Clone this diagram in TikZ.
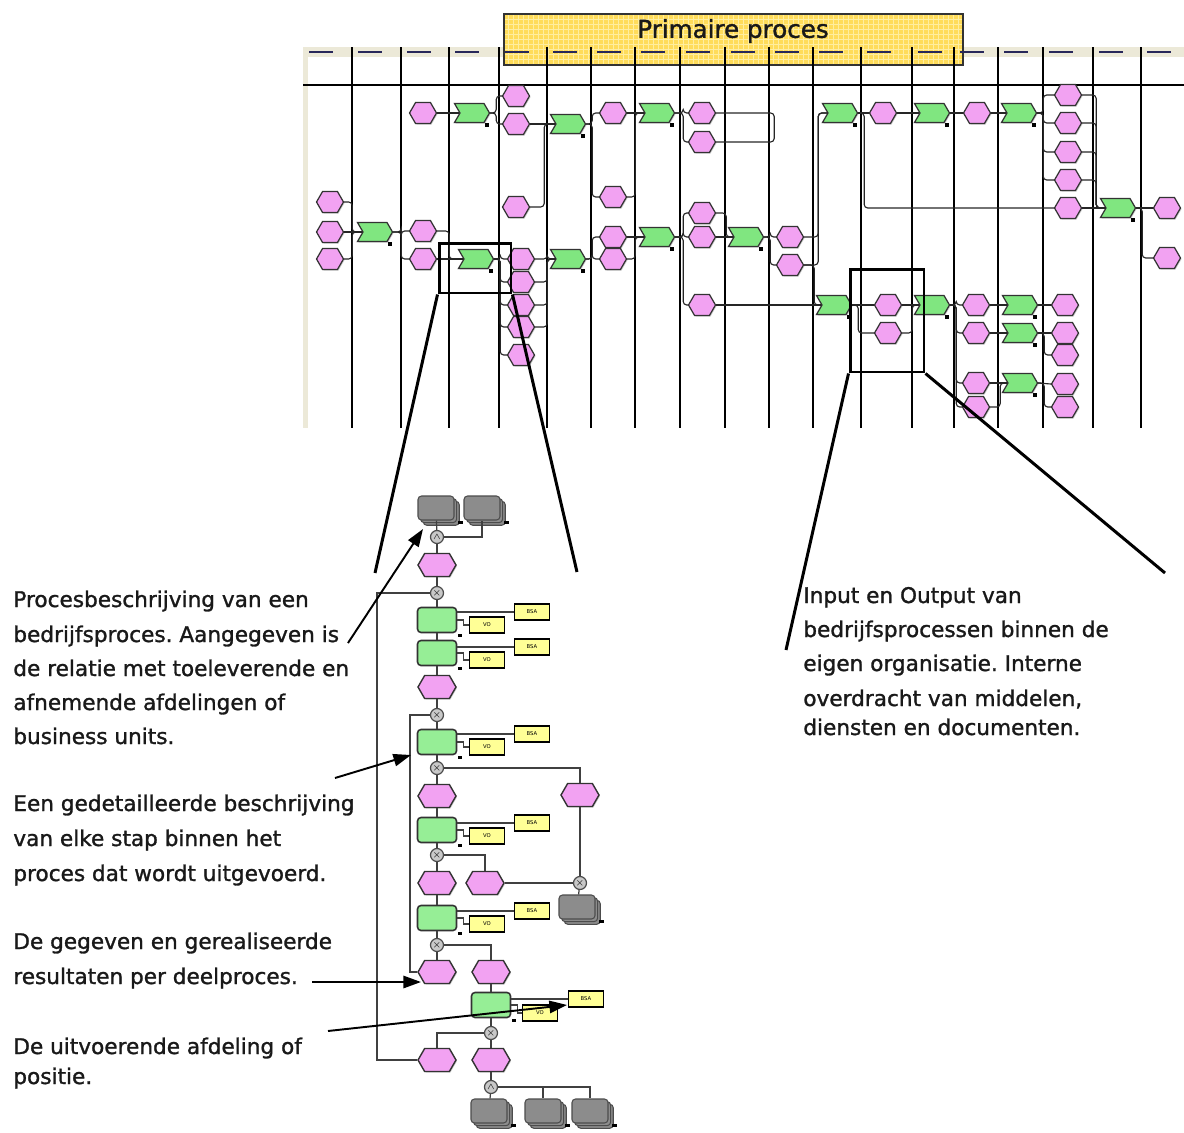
\documentclass[tikz,border=0pt]{standalone}
\usepackage{fontspec}
\setmainfont{DejaVu Sans}
\newfontfamily\notefont{DejaVu Sans}[FakeBold=1.3]
\frenchspacing
\usetikzlibrary{shapes.symbols,shadows,arrows.meta,positioning}

\definecolor{eventpink}{RGB}{242,162,242}
\definecolor{funcgreen}{RGB}{128,230,128}
\definecolor{detgreen}{RGB}{150,238,150}
\definecolor{docyellow}{RGB}{255,255,150}
\definecolor{startgray}{RGB}{140,140,140}
\definecolor{connfill}{RGB}{200,200,200}
\definecolor{titleyellow}{RGB}{255,220,90}
\definecolor{titlegrid}{RGB}{255,238,160}
\definecolor{lanebeige}{RGB}{236,233,216}
\definecolor{labelnavy}{RGB}{40,40,90}

\tikzset{
  unitmark/.style={fill=black, inner sep=0pt, minimum width=0.09cm, minimum height=0.07cm},
  event/.style={shape=signal, signal to=east and west, signal pointer angle=120, draw=black!80, line width=0.7pt, fill=eventpink, minimum width=0.54cm, minimum height=0.42cm, inner sep=0pt, drop shadow={shadow xshift=0.6pt, shadow yshift=-0.6pt, opacity=0.4}},
  func/.style={shape=signal, signal to=east, signal from=west, signal pointer angle=120, draw=black!80, line width=0.7pt, fill=funcgreen, minimum width=0.7cm, minimum height=0.38cm, inner sep=0pt, label={[unitmark]south east:{}}, drop shadow={shadow xshift=0.6pt, shadow yshift=-0.6pt, opacity=0.4}},
  devent/.style={event, line width=0.8pt, minimum width=0.76cm, minimum height=0.46cm},
  dfunc/.style={rectangle, rounded corners=2pt, draw=black!80, line width=0.9pt, fill=detgreen, minimum width=0.78cm, minimum height=0.5cm, label={[unitmark]south east:{}}},
  doc/.style={rectangle, draw=black, line width=1.1pt, fill=docyellow, minimum width=0.7cm, minimum height=0.32cm, inner sep=0pt, font=\fontsize{3}{3}\selectfont},
  startev/.style={rectangle, rounded corners=2pt, draw=black!70, line width=0.6pt, fill=startgray, minimum width=0.72cm, minimum height=0.48cm, double copy shadow={shadow xshift=1.5pt, shadow yshift=-1.5pt}, label={[unitmark, xshift=2pt]south east:{}}},
  conn/.style={circle, draw=black!70, line width=0.7pt, fill=connfill, minimum size=0.26cm, inner sep=0pt, font=\fontsize{5}{5}\selectfont},
  flow/.style={draw=black!85, line width=0.65pt, rounded corners=2pt},
  dflow/.style={draw=black!75, line width=0.7pt},
  lane/.style={draw=black, line width=0.75pt},
  titlebox/.style={rectangle, draw=black!80, line width=1pt, fill=titleyellow, minimum width=9.18cm, minimum height=1.02cm,
    path picture={\draw[titlegrid, line width=0.4pt, step=0.1cm] (path picture bounding box.south west) grid (path picture bounding box.north east);}},
  zoombox/.style={draw=black, line width=1.7pt},
  zoomline/.style={draw=black, line width=1.7pt},
  pointer/.style={draw=black, line width=1.1pt, -{Triangle[length=10pt, width=7pt]}},
  note/.style={font=\notefont\fontsize{12.3}{14}\selectfont, text=black!90, inner sep=0pt, anchor=base west}
}

\begin{document}
\begin{tikzpicture}[x=0.02cm, y=-0.02cm]
\useasboundingbox (0,0) rectangle (1184,1133);

% swimlanes
\fill[lanebeige] (303,47) rectangle (1184,57);
\fill[lanebeige] (303,57) rectangle (308,428);
\node[titlebox] (title) at (733.5,39.5) {};
\foreach \x in {303,352,401,449,499,547,591,635,680,725,769,813,861,912,954,998,1043,1093,1141}
  \fill[labelnavy] (\x+6,50.5) rectangle (\x+30,53);
\foreach \x in {352,401,449,499,547,591,635,680,725,769,813,861,912,954,998,1043,1093,1141}
  \draw[lane] (\x,47) -- (\x,428);
\draw[lane] (303,85) -- (1184,85);
\node[font=\notefont\fontsize{14}{16}\selectfont, text=black!90] (titletext) at (733,31) {Primaire proces};

% overview process
\node[event] (e1) at (330,202) {};
\node[event] (e2) at (330,232) {};
\node[event] (e3) at (330,259) {};
\node[func] (f1) at (375,232) {};
\node[event] (e4) at (423,113) {};
\node[event] (e5) at (423,231) {};
\node[event] (e6) at (423,259) {};
\node[func] (f2) at (472,113) {};
\node[func] (f3) at (476,259) {};
\node[event] (e7) at (516,96) {};
\node[event] (e8) at (516,124) {};
\node[event] (e9) at (516,207) {};
\node[event] (e10) at (521,259) {};
\node[event] (e11) at (521,282) {};
\node[event] (e12) at (521,305) {};
\node[event] (e13) at (521,327) {};
\node[event] (e14) at (521,355) {};
\node[func] (f4) at (568,124) {};
\node[func] (f5) at (568,259) {};
\node[event] (e15) at (613,113) {};
\node[event] (e16) at (613,197) {};
\node[event] (e17) at (613,237) {};
\node[event] (e18) at (613,259) {};
\node[func] (f6) at (657,113) {};
\node[func] (f7) at (657,237) {};
\node[event] (e19) at (702,113) {};
\node[event] (e20) at (702,142) {};
\node[event] (e21) at (702,213) {};
\node[event] (e22) at (702,237) {};
\node[event] (e23) at (702,305) {};
\node[func] (f8) at (746,237) {};
\node[event] (e24) at (790,237) {};
\node[event] (e25) at (790,265) {};
\node[func] (f9) at (840,113) {};
\node[func] (f10) at (834,305) {};
\node[event] (e26) at (883,113) {};
\node[event] (e27) at (888,305) {};
\node[event] (e28) at (888,333) {};
\node[func] (f11) at (932,113) {};
\node[func] (f12) at (932,305) {};
\node[event] (e29) at (977,113) {};
\node[event] (e30) at (976,305) {};
\node[event] (e31) at (976,333) {};
\node[event] (e32) at (976,383) {};
\node[event] (e33) at (976,407) {};
\node[func] (f13) at (1019,113) {};
\node[func] (f14) at (1020,305) {};
\node[func] (f15) at (1020,333) {};
\node[func] (f16) at (1020,383) {};
\node[event] (e34) at (1068,95) {};
\node[event] (e35) at (1068,123) {};
\node[event] (e36) at (1068,152) {};
\node[event] (e37) at (1068,180) {};
\node[event] (e38) at (1068,208) {};
\node[event] (e39) at (1065,305) {};
\node[event] (e40) at (1065,333) {};
\node[event] (e41) at (1065,355) {};
\node[event] (e42) at (1065,384) {};
\node[event] (e43) at (1065,407) {};
\node[func] (f17) at (1118,208) {};
\node[event] (e44) at (1167,208) {};
\node[event] (e45) at (1167,258) {};

\draw[flow] (e1.east) -- ++(8,0) |- (f1.west);
\draw[flow] (e2.east) -- (f1.west);
\draw[flow] (e3.east) -- ++(8,0) |- (f1.west);
\draw[flow] (f1.east) -- ++(8,0) |- (e5.west);
\draw[flow] (f1.east) -- ++(8,0) |- (e6.west);
\draw[flow] (e5.east) -- ++(12,0) |- (f3.west);
\draw[flow] (e6.east) -- (f3.west);
\draw[flow] (e4.east) -- (f2.west);
\draw[flow] (f2.east) -- ++(6,0) |- (e7.west);
\draw[flow] (f2.east) -- ++(6,0) |- (e8.west);
\draw[flow] (e8.east) -- (f4.west);
\draw[flow] (e9.east) -- ++(14,0) |- (f4.west);
\draw[flow] (f4.east) -- ++(6,0) |- (e15.west);
\draw[flow] (f4.east) -- ++(6,0) |- (e16.west);
\draw[flow] (e15.east) -- (f6.west);
\draw[flow] (e16.east) -- ++(8,0) |- (f6.west);
\draw[flow] (f6.east) -- ++(8,0) |- (e19.west);
\draw[flow] (f6.east) -- ++(8,0) |- (e20.west);
\draw[flow] (e19.east) -- ++(58,0) |- (e20.east);
\foreach \n in {e10,e11,e12,e13,e14}
  \draw[flow] (f3.east) -- ++(6,0) |- (\n.west);
\foreach \n in {e10,e11,e12,e13}
  \draw[flow] (\n.east) -- ++(12,0) |- (f5.west);
\draw[flow] (f5.east) -- ++(6,0) |- (e17.west);
\draw[flow] (f5.east) -- ++(6,0) |- (e18.west);
\draw[flow] (e17.east) -- (f7.west);
\draw[flow] (e18.east) -- ++(8,0) |- (f7.west);
\foreach \n in {e21,e22,e23}
  \draw[flow] (f7.east) -- ++(8,0) |- (\n.west);
\draw[flow] (e21.east) -- ++(10,0) |- (f8.west);
\draw[flow] (e22.east) -- (f8.west);
\draw[flow] (f8.east) -- ++(6,0) |- (e24.west);
\draw[flow] (f8.east) -- ++(6,0) |- (e25.west);
\draw[flow] (e24.east) -- ++(14,0) |- (f9.west);
\draw[flow] (e25.east) -- ++(14,0) |- (f9.west);
\draw[flow] (e25.east) -- ++(10,0) |- (f10.west);
\draw[flow] (e23.east) -- (f10.west);
\draw[flow] (f9.east) -- (e26.west);
\draw[flow] (f9.east) -- ++(6,0) |- (e38.west);
\draw[flow] (e26.east) -- (f11.west);
\draw[flow] (f11.east) -- (e29.west);
\draw[flow] (e29.east) -- (f13.west);
\foreach \n in {e34,e35,e36,e37}
  \draw[flow] (f13.east) -- ++(6,0) |- (\n.west);
\foreach \n in {e34,e35,e36,e37}
  \draw[flow] (\n.east) -- ++(14,0) |- (f17.west);
\draw[flow] (e38.east) -- (f17.west);
\draw[flow] (f17.east) -- (e44.west);
\draw[flow] (f17.east) -- ++(6,0) |- (e45.west);
\draw[flow] (f10.east) -- (e27.west);
\draw[flow] (f10.east) -- ++(6,0) |- (e28.west);
\draw[flow] (e27.east) -- (f12.west);
\draw[flow] (e28.east) -- ++(10,0) |- (f12.west);
\foreach \n in {e30,e31,e32,e33}
  \draw[flow] (f12.east) -- ++(6,0) |- (\n.west);
\draw[flow] (e30.east) -- (f14.west);
\draw[flow] (f14.east) -- (e39.west);
\draw[flow] (e31.east) -- (f15.west);
\draw[flow] (f15.east) -- (e40.west);
\draw[flow] (f15.east) -- ++(6,0) |- (e41.west);
\draw[flow] (e32.east) -- (f16.west);
\draw[flow] (e33.east) -- ++(10,0) |- (f16.west);
\draw[flow] (f16.east) -- (e42.west);
\draw[flow] (f16.east) -- ++(6,0) |- (e43.west);

% zoom frames
\node[zoombox, minimum width=1.44cm, minimum height=1.0cm] (zoomA) at (475,268) {};
\node[zoombox, minimum width=1.48cm, minimum height=2.06cm] (zoomB) at (887,320.5) {};
\coordinate (zoomAl) at (375,573);
\coordinate (zoomAr) at (577,572);
\coordinate (zoomBl) at (786,650);
\coordinate (zoomBr) at (1165,573);
\draw[zoomline] (zoomA.south west) -- (zoomAl);
\draw[zoomline] (zoomA.south east) -- (zoomAr);
\draw[zoomline] (zoomB.south west) -- (zoomBl);
\draw[zoomline] (zoomB.south east) -- (zoomBr);

% detailed process
\node[startev] (s1) at (436,508) {};
\node[startev] (s2) at (482,508) {};
\node[conn] (and1) at (437,537) {$\wedge$};
\node[devent] (b1) at (437,565) {};
\node[conn] (x1) at (437,593) {$\times$};
\node[dfunc] (g1) at (437,620) {};
\node[doc] (y1) at (532,612) {BSA};
\node[doc] (v1) at (487,625) {VO};
\node[dfunc] (g2) at (437,653) {};
\node[doc] (y2) at (532,647) {BSA};
\node[doc] (v2) at (487,660) {VO};
\node[devent] (b2) at (437,687) {};
\node[conn] (x2) at (437,715) {$\times$};
\node[dfunc] (g3) at (437,742) {};
\node[doc] (y3) at (532,734) {BSA};
\node[doc] (v3) at (487,747) {VO};
\node[conn] (x3) at (437,768) {$\times$};
\node[devent] (b3) at (437,796) {};
\node[devent] (b4) at (580,795) {};
\node[dfunc] (g4) at (437,830) {};
\node[doc] (y4) at (532,823) {BSA};
\node[doc] (v4) at (487,836) {VO};
\node[conn] (x4) at (437,855) {$\times$};
\node[devent] (b5) at (437,883) {};
\node[devent] (b6) at (485,883) {};
\node[conn] (x5) at (580,883) {$\times$};
\node[startev] (s3) at (577,907) {};
\node[dfunc] (g5) at (437,918) {};
\node[doc] (y5) at (532,911) {BSA};
\node[doc] (v5) at (487,924) {VO};
\node[conn] (x6) at (437,945) {$\times$};
\node[devent] (b7) at (437,972) {};
\node[devent] (b8) at (491,972) {};
\node[dfunc] (g6) at (491,1005) {};
\node[doc] (y6) at (586,999) {BSA};
\node[doc] (v6) at (540,1013) {VO};
\node[conn] (x7) at (491,1033) {$\times$};
\node[devent] (b9) at (437,1060) {};
\node[devent] (b10) at (491,1060) {};
\node[conn] (and2) at (491,1087) {$\wedge$};
\node[startev] (s4) at (489,1111) {};
\node[startev] (s5) at (543,1111) {};
\node[startev] (s6) at (590,1111) {};

\draw[dflow] (s1) -- (and1);
\draw[dflow] (and1.east) -| (s2.south);
\draw[dflow] (and1) -- (b1);
\draw[dflow] (b1) -- (x1);
\draw[dflow] (x1) -- (g1);
\draw[dflow] (g1) -- (g2);
\draw[dflow] (g2) -- (b2);
\draw[dflow] (b2) -- (x2);
\draw[dflow] (x2) -- (g3);
\draw[dflow] (g3) -- (x3);
\draw[dflow] (x3) -- (b3);
\draw[dflow] (b3) -- (g4);
\draw[dflow] (g4) -- (x4);
\draw[dflow] (x4) -- (b5);
\draw[dflow] (b5) -- (g5);
\draw[dflow] (g5) -- (x6);
\draw[dflow] (x6) -- (b7);
\draw[dflow] (x3.east) -| (b4.north);
\draw[dflow] (b4) -- (x5);
\draw[dflow] (x4.east) -| (b6.north);
\draw[dflow] (b6) -- (x5);
\draw[dflow] (x5) -- (s3);
\draw[dflow] (x6.east) -| (b8.north);
\draw[dflow] (b8) -- (g6);
\draw[dflow] (g6) -- (x7);
\draw[dflow] (x7) -- (b10);
\draw[dflow] (x7.west) -| (b9.north);
\draw[dflow] (b10) -- (and2);
\draw[dflow] (and2) -- (s4);
\draw[dflow] (and2.east) -| (s5.north);
\draw[dflow] (and2.east) -| (s6.north);
\draw[dflow] (x1.west) -- ++(-53,0) |- (b9.west);
\draw[dflow] (x2.west) -- ++(-20,0) |- (b7.west);
\foreach \g/\y/\v in {g1/y1/v1, g2/y2/v2, g3/y3/v3, g4/y4/v4, g5/y5/v5, g6/y6/v6} {
  \draw[dflow] (\g.east |- \y) -- (\y.west);
  \draw[dflow] (\g.east) -- ++(6,0) |- (\v.west);
}

% explanations
\node[note] (proc1) at (13,607) {Procesbeschrijving van een};
\node[note] (proc2) at (13,642) {bedrijfsproces. Aangegeven is};
\node[note] (proc3) at (13,676) {de relatie met toeleverende en};
\node[note] (proc4) at (13,710) {afnemende afdelingen of};
\node[note] (proc5) at (13,744) {business units.};
\node[note] (step1) at (13,811) {Een gedetailleerde beschrijving};
\node[note] (step2) at (13,846) {van elke stap binnen het};
\node[note] (step3) at (13,881) {proces dat wordt uitgevoerd.};
\node[note] (res1) at (13,949) {De gegeven en gerealiseerde};
\node[note] (res2) at (13,984) {resultaten per deelproces.};
\node[note] (dept1) at (13,1054) {De uitvoerende afdeling of};
\node[note] (dept2) at (13,1084) {positie.};
\node[note] (io1) at (803,603) {Input en Output van};
\node[note] (io2) at (803,637) {bedrijfsprocessen binnen de};
\node[note] (io3) at (803,671) {eigen organisatie. Interne};
\node[note] (io4) at (803,706) {overdracht van middelen,};
\node[note] (io5) at (803,735) {diensten en documenten.};

\coordinate (procFrom) at (348,643);
\coordinate (procTo) at (423,529);
\coordinate (stepFrom) at (335,778);
\coordinate (stepTo) at (411,755);
\coordinate (resFrom) at (312,982);
\coordinate (resTo) at (421,982);
\coordinate (deptFrom) at (328,1031);
\coordinate (deptTo) at (567,1005);
\draw[pointer] (procFrom) -- (procTo);
\draw[pointer] (stepFrom) -- (stepTo);
\draw[pointer] (resFrom) -- (resTo);
\draw[pointer] (deptFrom) -- (deptTo);
\end{tikzpicture}
\end{document}
